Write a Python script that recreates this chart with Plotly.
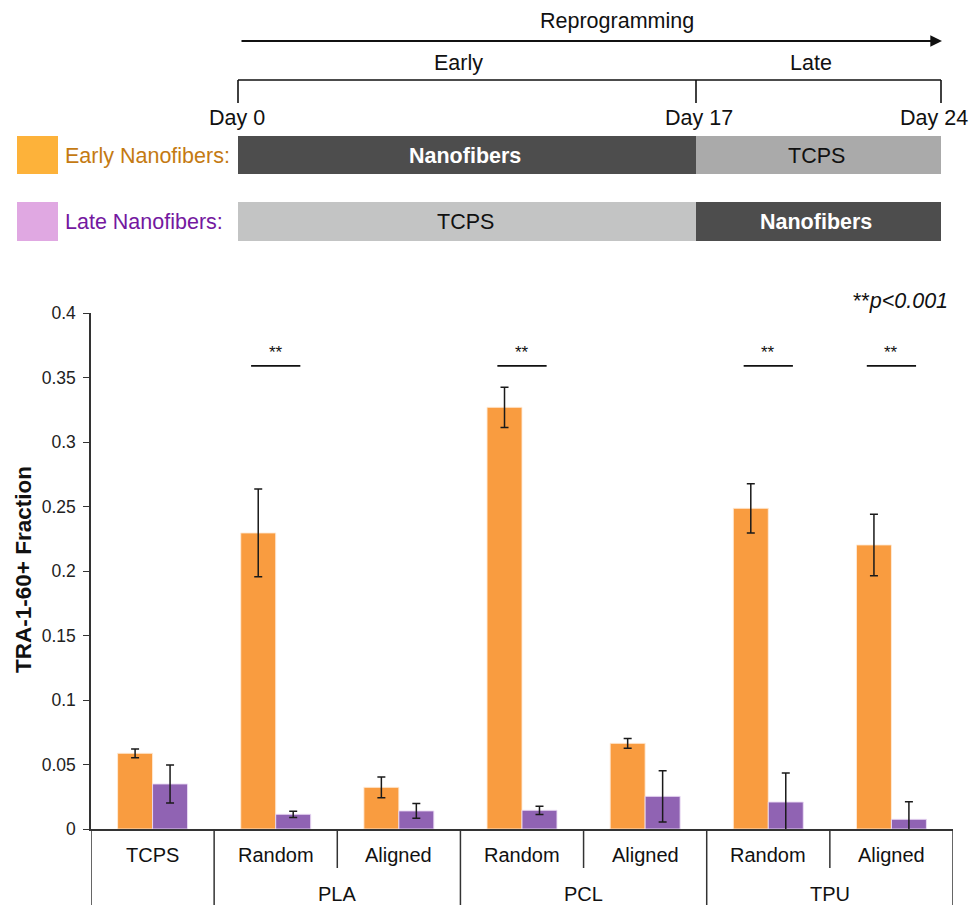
import plotly.graph_objects as go

W, H = 969, 905

# ---- data -------------------------------------------------------------
categories = ["TCPS", "Random", "Aligned", "Random", "Aligned", "Random", "Aligned"]
materials = ["PLA", "PCL", "TPU"]
early_vals = [0.0587, 0.2295, 0.0323, 0.3269, 0.0664, 0.2486, 0.2202]
early_err = [0.0034, 0.0340, 0.0080, 0.0156, 0.0038, 0.0191, 0.0238]
late_vals = [0.0349, 0.0114, 0.0140, 0.0145, 0.0253, 0.0209, 0.0075]
late_err = [0.0147, 0.0024, 0.0057, 0.0032, 0.0198, 0.0225, 0.0137]
significant = [1, 3, 5, 6]
y_ticks = [0, 0.05, 0.1, 0.15, 0.2, 0.25, 0.3, 0.35, 0.4]
sig_level = 0.359

# ---- styling ----------------------------------------------------------
FONT = "Liberation Sans, Arial, Helvetica, sans-serif"
ORANGE = "#F99C40"
PURPLE = "#9063B3"
SW_ORANGE = "#FDB23A"
SW_PINK = "#E0A8E2"
DARK = "#4D4D4D"
LIGHT1 = "#AAAAAA"
LIGHT2 = "#C3C4C4"
INK = "#111111"
AXIS = "#333333"


def px(x):
    return x / W


def py(y):
    return 1 - y / H


x_pos = list(range(len(categories)))

fig = go.Figure()
fig.add_trace(go.Bar(
    x=x_pos, y=early_vals, name="Early Nanofibers",
    marker=dict(color=ORANGE, line=dict(color="rgba(255,235,215,0.9)", width=1)),
    error_y=dict(type="data", array=early_err, color="#1a1a1a", thickness=1.5, width=4),
))
fig.add_trace(go.Bar(
    x=x_pos, y=late_vals, name="Late Nanofibers",
    marker=dict(color=PURPLE, line=dict(color="rgba(235,220,245,0.9)", width=1)),
    error_y=dict(type="data", array=late_err, color="#1a1a1a", thickness=1.5, width=4),
))

shapes = []
annotations = []

# ---- timeline header ----------------------------------------------------
line_k = dict(color=INK, width=1.6)
shapes.append(dict(type="line", xref="paper", yref="paper",
                   x0=px(238), x1=px(941), y0=py(80), y1=py(80), line=line_k))
for xv in (238, 696, 941):
    shapes.append(dict(type="line", xref="paper", yref="paper",
                       x0=px(xv), x1=px(xv), y0=py(80), y1=py(103), line=line_k))

annotations.append(dict(xref="paper", yref="paper", axref="pixel", ayref="pixel",
                        x=px(942), y=py(41), ax=-702, ay=0, text="",
                        showarrow=True, arrowhead=2, arrowsize=1.3, arrowwidth=1.8,
                        arrowcolor=INK))

rows = [
    # (y_top, y_bottom, left colour, left text, left bold, right colour, right text, right bold)
    (136, 174, DARK, "Nanofibers", True, LIGHT1, "TCPS", False),
    (202, 241, LIGHT2, "TCPS", False, DARK, "Nanofibers", True),
]
for (yt, yb, c_left, t_left, b_left, c_right, t_right, b_right) in rows:
    shapes.append(dict(type="rect", xref="paper", yref="paper", line=dict(width=0),
                       x0=px(238), x1=px(696), y0=py(yb), y1=py(yt), fillcolor=c_left))
    shapes.append(dict(type="rect", xref="paper", yref="paper", line=dict(width=0),
                       x0=px(696), x1=px(941), y0=py(yb), y1=py(yt), fillcolor=c_right))
    ym = (yt + yb) / 2 + 1
    for xc, txt, bold, col in ((465, t_left, b_left, c_left), (816, t_right, b_right, c_right)):
        annotations.append(dict(
            xref="paper", yref="paper", x=px(xc), y=py(ym), showarrow=False,
            text=f"<b>{txt}</b>" if bold else txt,
            font=dict(family=FONT, size=21.5, color="white" if bold else INK),
            xanchor="center", yanchor="middle"))

# legend swatches
for (yt, yb, col, label, tcol) in ((136, 174, SW_ORANGE, "Early Nanofibers:", "#C47A12"),
                                   (202, 241, SW_PINK, "Late Nanofibers:", "#7418A0")):
    shapes.append(dict(type="rect", xref="paper", yref="paper", line=dict(width=0),
                       x0=px(17), x1=px(58), y0=py(yb), y1=py(yt), fillcolor=col))
    annotations.append(dict(xref="paper", yref="paper", x=px(63), y=py((yt + yb) / 2 + 1),
                            text=label, showarrow=False, xanchor="left", yanchor="middle",
                            font=dict(family=FONT, size=21.5, color=tcol)))

header_text = [
    ("Reprogramming", 617, 21),
    ("Early", 458, 63),
    ("Late", 811, 63),
    ("Day 0", 237, 118),
    ("Day 17", 699, 118),
    ("Day 24", 934, 118),
]
for txt, xc, yc in header_text:
    annotations.append(dict(xref="paper", yref="paper", x=px(xc), y=py(yc), text=txt,
                            showarrow=False, xanchor="center", yanchor="middle",
                            font=dict(family=FONT, size=21.5, color=INK)))

# ---- category table under the x axis -----------------------------------
full_div = [-0.5, 0.5, 2.5, 4.5, 6.5]
short_div = [1.5, 3.5, 5.5]
for xv in full_div:
    shapes.append(dict(type="line", xref="x", yref="paper", x0=xv, x1=xv,
                       y0=py(829), y1=0, line=dict(color=AXIS, width=1.5)))
for xv in short_div:
    shapes.append(dict(type="line", xref="x", yref="paper", x0=xv, x1=xv,
                       y0=py(829), y1=py(868), line=dict(color=AXIS, width=1.5)))

for i, cat in enumerate(categories):
    annotations.append(dict(xref="x", yref="paper", x=i, y=py(855), text=cat,
                            showarrow=False, xanchor="center", yanchor="middle",
                            font=dict(family=FONT, size=20, color=INK)))
for j, mat in enumerate(materials):
    annotations.append(dict(xref="x", yref="paper", x=1.5 + 2 * j, y=py(894), text=mat,
                            showarrow=False, xanchor="center", yanchor="middle",
                            font=dict(family=FONT, size=20, color=INK)))

# ---- significance markers ----------------------------------------------
for i in significant:
    shapes.append(dict(type="line", xref="x", yref="y", x0=i - 0.2, x1=i + 0.2,
                       y0=sig_level, y1=sig_level, line=dict(color=INK, width=1.8)))
    annotations.append(dict(xref="x", yref="y", x=i, y=sig_level, yshift=13,
                            text="**", showarrow=False, xanchor="center", yanchor="middle",
                            font=dict(family=FONT, size=17, color=INK)))

annotations.append(dict(xref="paper", yref="paper", x=px(950), y=py(301),
                        text="**<i>p&lt;0.001</i>", showarrow=False,
                        xanchor="right", yanchor="middle",
                        font=dict(family=FONT, size=21.5, color=INK)))

# y-axis title
annotations.append(dict(xref="paper", yref="paper", x=px(23), y=py(570),
                        text="<b>TRA-1-60+ Fraction</b>", textangle=-90, showarrow=False,
                        xanchor="center", yanchor="middle",
                        font=dict(family=FONT, size=22.5, color=INK)))

fig.update_layout(
    width=W, height=H,
    margin=dict(l=0, r=0, t=0, b=0, pad=0, autoexpand=False),
    paper_bgcolor="white", plot_bgcolor="white",
    barmode="group", bargap=0.432, bargroupgap=0,
    showlegend=False,
    shapes=shapes, annotations=annotations,
    xaxis=dict(domain=[px(91), px(953)], range=[-0.5, 6.5], automargin=False,
               showticklabels=False, ticks="", showgrid=False, zeroline=False,
               showline=True, linecolor=AXIS, linewidth=1.5, fixedrange=True),
    yaxis=dict(domain=[py(829), py(313)], range=[0, 0.4], tickvals=y_ticks,
               automargin=False, ticklabelstandoff=4,
               ticks="outside", ticklen=6, tickcolor=AXIS, tickwidth=1.2,
               showgrid=False, zeroline=False, showline=True, linecolor=AXIS,
               linewidth=1.5, tickfont=dict(family=FONT, size=17.5, color="#222222"),
               fixedrange=True),
)

fig.write_html("out.html")
